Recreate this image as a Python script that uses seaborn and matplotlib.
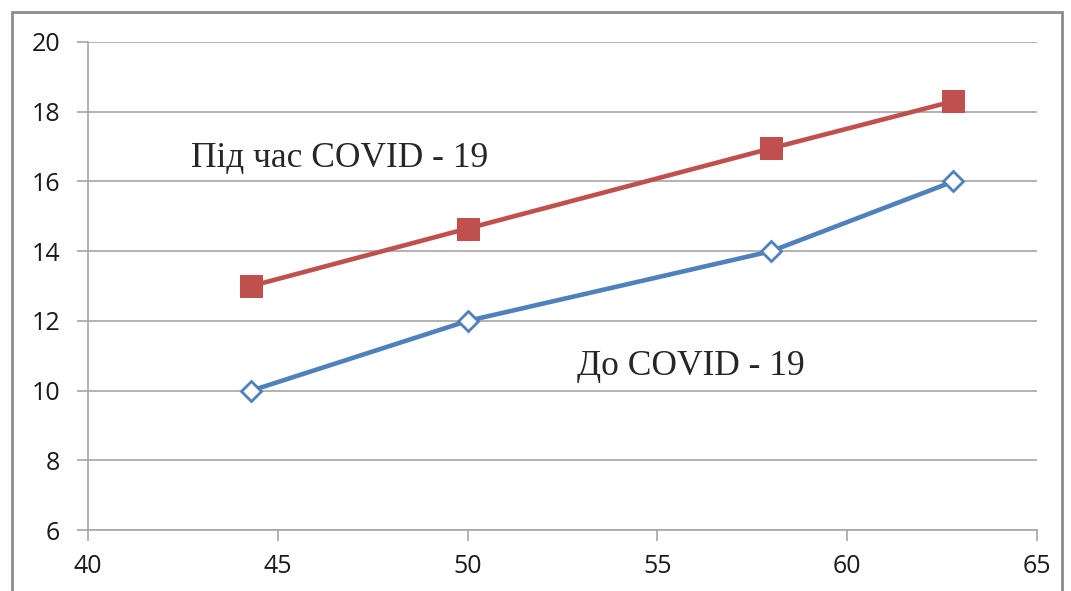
import pandas as pd
import matplotlib
matplotlib.use("Agg")
import matplotlib.pyplot as plt
import seaborn as sns
from matplotlib.patches import Rectangle

x_vals = [44.3, 50, 58, 62.8]
before_covid = [10, 12, 14, 16]
during_covid = [13, 14.65, 16.95, 18.3]

label_before = "До COVID - 19"
label_during = "Під час COVID - 19"

sns.set_style("white")
plt.rcParams["font.family"] = ["Open Sans", "DejaVu Sans"]

fig = plt.figure(figsize=(10.71, 5.91), dpi=100)
ax = fig.add_axes([0.0822, 0.103, 0.886, 0.826])

# outer chart frame
fig.patches.append(Rectangle((12 / 1071, -0.05), 1050 / 1071, 1 - 12 / 591 + 0.05,
                             transform=fig.transFigure, fill=False,
                             edgecolor="#8c8c8c", linewidth=2))

sns.lineplot(x=x_vals, y=during_covid, ax=ax, color="#C0504D", linewidth=3.3,
             marker="s", markersize=16.5, markeredgecolor="#C0504D")
sns.lineplot(x=x_vals, y=before_covid, ax=ax, color="#4F81BD", linewidth=3.3,
             marker="D", markersize=10, markerfacecolor="white",
             markeredgecolor="#4F81BD", markeredgewidth=2)

ax.set_xlim(40, 65)
ax.set_ylim(6, 20)
ax.set_xticks(range(40, 66, 5))
ax.set_yticks(range(6, 21, 2))
ax.yaxis.grid(True, color="#a6a6a6", linewidth=1.2)
ax.set_axisbelow(True)

for side in ["top", "right"]:
    ax.spines[side].set_visible(False)
for side in ["left", "bottom"]:
    ax.spines[side].set_color("#a6a6a6")
    ax.spines[side].set_linewidth(1.2)

ax.tick_params(axis="both", direction="out", length=8, width=1.2,
               bottom=True, left=True,
               color="#a6a6a6", labelsize=18, labelcolor="#1a1a1a")
ax.tick_params(axis="y", pad=12)
ax.tick_params(axis="x", pad=9)

ax.text(42.7, 16.67, label_during, fontsize=25.5, family="Liberation Serif",
        va="center", ha="left")
ax.text(52.87, 10.7, label_before, fontsize=25.5, family="Liberation Serif",
        va="center", ha="left")

fig.savefig("out.png", dpi=100)
